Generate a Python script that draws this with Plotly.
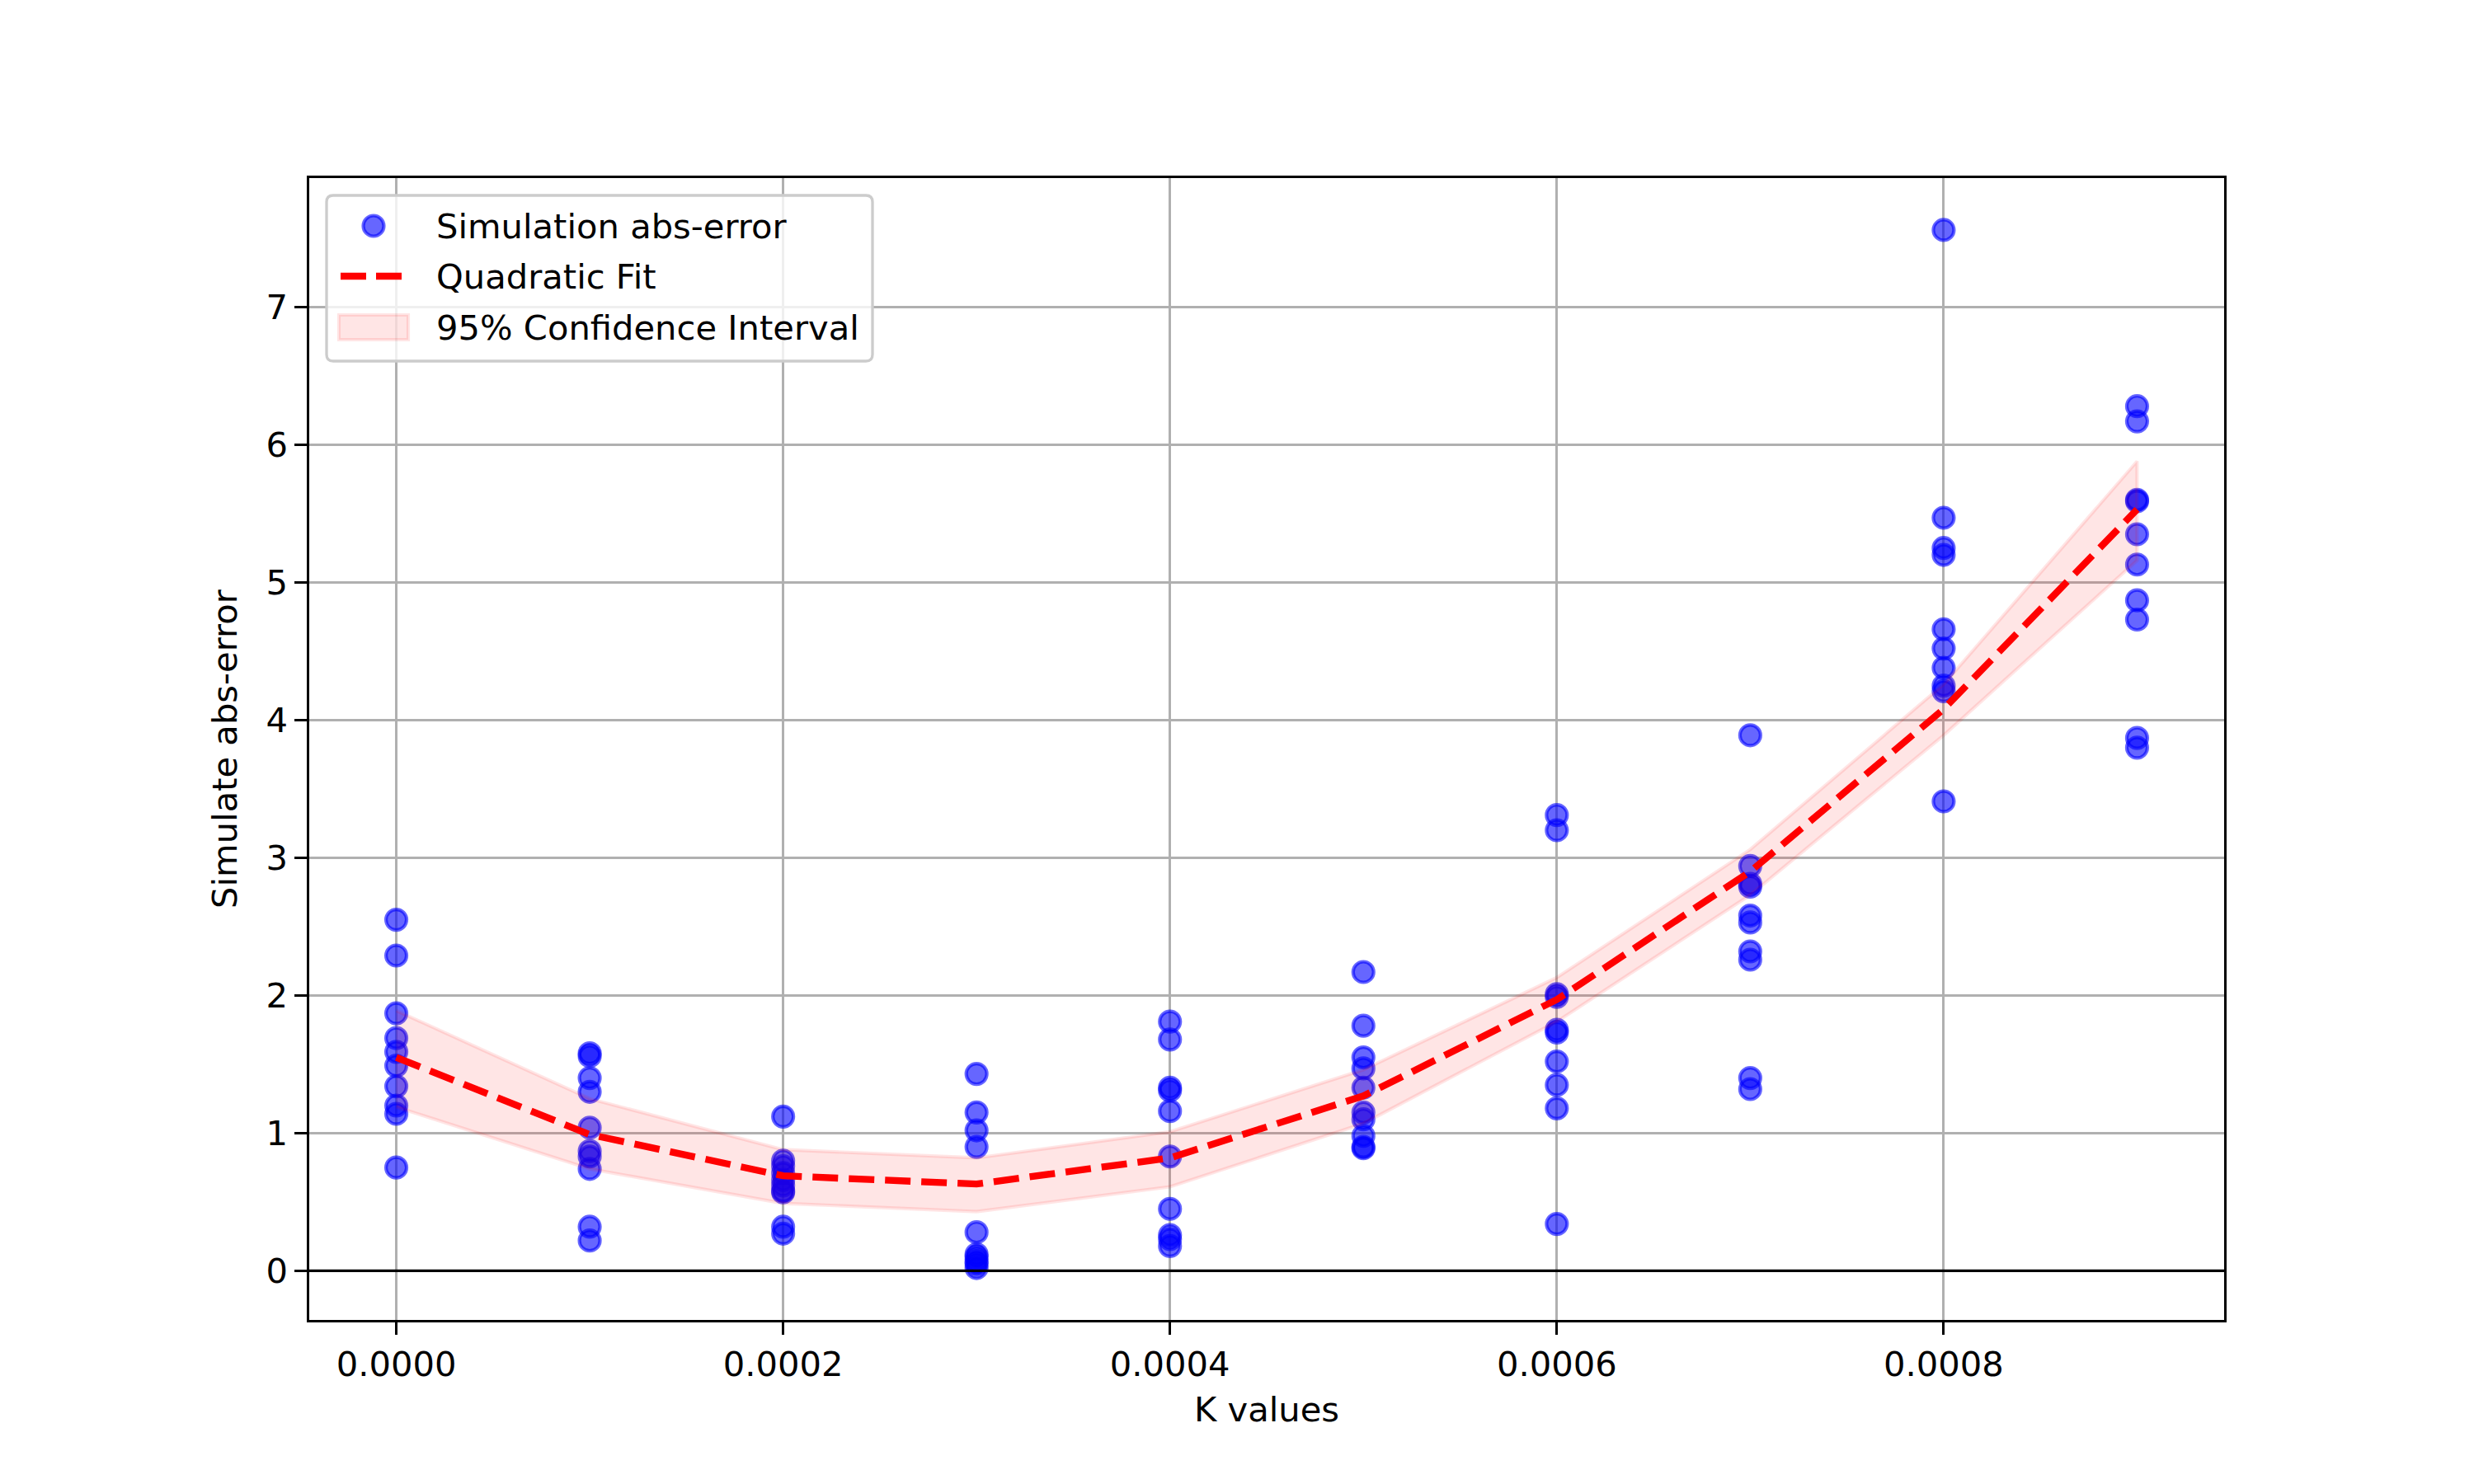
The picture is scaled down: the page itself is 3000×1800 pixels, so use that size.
import plotly.graph_objects as go

# ---- data ----
k_levels = [0.0, 0.0001, 0.0002, 0.0003, 0.0004, 0.0005, 0.0006, 0.0007, 0.0008, 0.0009]

err_k0 = [2.55, 2.29, 1.87, 1.69, 1.59, 1.49, 1.34, 1.20, 1.14, 0.75]
err_k1 = [1.58, 1.56, 1.40, 1.30, 1.04, 0.87, 0.83, 0.74, 0.32, 0.22]
err_k2 = [1.12, 0.80, 0.76, 0.71, 0.66, 0.62, 0.58, 0.57, 0.32, 0.27]
err_k3 = [1.43, 1.15, 1.02, 0.90, 0.28, 0.12, 0.10, 0.07, 0.05, 0.02]
err_k4 = [1.81, 1.68, 1.33, 1.31, 1.16, 0.83, 0.45, 0.26, 0.23, 0.18]
err_k5 = [2.17, 1.78, 1.55, 1.47, 1.33, 1.15, 1.10, 0.98, 0.90, 0.89]
err_k6 = [3.31, 3.20, 2.01, 1.99, 1.75, 1.73, 1.52, 1.35, 1.18, 0.34]
err_k7 = [3.89, 2.94, 2.81, 2.79, 2.58, 2.53, 2.32, 2.26, 1.40, 1.32]
err_k8 = [7.56, 5.47, 5.25, 5.20, 4.66, 4.52, 4.38, 4.25, 4.21, 3.41]
err_k9 = [6.28, 6.17, 5.60, 5.59, 5.35, 5.13, 4.87, 4.73, 3.87, 3.80]

fit_values = [1.55, 0.99, 0.69, 0.63, 0.82, 1.27, 1.97, 2.90, 4.08, 5.53]
ci_upper = [1.89, 1.25, 0.88, 0.82, 1.01, 1.46, 2.13, 3.06, 4.26, 5.88]
ci_lower = [1.19, 0.74, 0.49, 0.43, 0.61, 1.07, 1.81, 2.73, 3.89, 5.16]

x_tick_vals = [0.0, 0.0002, 0.0004, 0.0006, 0.0008]
y_tick_vals = [0, 1, 2, 3, 4, 5, 6, 7]

legend_labels = ["Simulation abs-error", "Quadratic Fit", "95% Confidence Interval"]

# ---- build flat point arrays ----
groups = [err_k0, err_k1, err_k2, err_k3, err_k4, err_k5, err_k6, err_k7, err_k8, err_k9]
px, py = [], []
for k, vals in zip(k_levels, groups):
    for v in vals:
        px.append(k)
        py.append(v)

W, H = 3000, 1800
ML, MR, MT, MB = 375, 303, 216, 199
PW, PH = W - ML - MR, H - MT - MB

PT = 300 / 72.0  # px per point
FONT = dict(family="DejaVu Sans", size=10 * PT, color="black")

POINT_FILL = "rgba(0,0,255,0.6)"
BAND_FILL = "rgba(255,0,0,0.1)"
DASH = f"{3.7*2*PT:.0f}px,{1.6*2*PT:.0f}px"


def pxx(x):
    return (x - ML) / PW


def pxy(y):
    return (H - MB - y) / PH


fig = go.Figure()

fig.add_trace(go.Scatter(
    x=px, y=py, mode="markers", name=legend_labels[0],
    marker=dict(size=6 * PT, color=POINT_FILL,
                line=dict(color=POINT_FILL, width=1 * PT)),
))

fig.add_trace(go.Scatter(
    x=k_levels + k_levels[::-1], y=ci_upper + ci_lower[::-1],
    mode="lines", fill="toself", fillcolor=BAND_FILL,
    line=dict(color=BAND_FILL, width=1 * PT),
    name=legend_labels[2],
))

fig.add_trace(go.Scatter(
    x=k_levels, y=fit_values, mode="lines", name=legend_labels[1],
    line=dict(color="red", width=2 * PT, dash=DASH),
))

axis_common = dict(
    showline=True, linecolor="black", linewidth=0.8 * PT, mirror=True,
    ticks="outside", ticklen=3.5 * PT, tickwidth=0.8 * PT, tickcolor="black",
    showgrid=True, gridcolor="#b0b0b0", gridwidth=0.8 * PT,
    zeroline=False, tickfont=FONT,
)

# ---- matplotlib-style legend (box, handles, labels) ----
bx0, by0, bx1, by1, r = 396, 237, 1058, 438, 8
corner_path = (
    f"M {pxx(bx0 + r)},{pxy(by0)} L {pxx(bx1 - r)},{pxy(by0)} "
    f"Q {pxx(bx1)},{pxy(by0)} {pxx(bx1)},{pxy(by0 + r)} "
    f"L {pxx(bx1)},{pxy(by1 - r)} Q {pxx(bx1)},{pxy(by1)} {pxx(bx1 - r)},{pxy(by1)} "
    f"L {pxx(bx0 + r)},{pxy(by1)} Q {pxx(bx0)},{pxy(by1)} {pxx(bx0)},{pxy(by1 - r)} "
    f"L {pxx(bx0)},{pxy(by0 + r)} Q {pxx(bx0)},{pxy(by0)} {pxx(bx0 + r)},{pxy(by0)} Z"
)

row_y = [274, 335, 397]
handle_x0, handle_x1 = 411, 495
text_x = 527

shapes = [
    dict(type="line", xref="paper", x0=0, x1=1, yref="y", y0=0, y1=0,
         line=dict(color="black", width=0.8 * PT), layer="above"),
    dict(type="path", xref="paper", yref="paper", path=corner_path,
         fillcolor="rgba(255,255,255,0.8)", line=dict(color="#cccccc", width=0.8 * PT),
         layer="above"),
    dict(type="circle", xref="paper", yref="paper", xsizemode="pixel", ysizemode="pixel",
         xanchor=pxx((handle_x0 + handle_x1) / 2), yanchor=pxy(row_y[0]),
         x0=-12.5, x1=12.5, y0=-12.5, y1=12.5,
         fillcolor=POINT_FILL, line=dict(color=POINT_FILL, width=1 * PT), layer="above"),
    dict(type="line", xref="paper", yref="paper",
         x0=pxx(413), x1=pxx(489), y0=pxy(row_y[1]), y1=pxy(row_y[1]),
         line=dict(color="red", width=2 * PT, dash="31px,12px"), layer="above"),
    dict(type="rect", xref="paper", yref="paper",
         x0=pxx(handle_x0), x1=pxx(handle_x1), y0=pxy(row_y[2] - 15), y1=pxy(row_y[2] + 15),
         fillcolor=BAND_FILL, line=dict(color=BAND_FILL, width=1 * PT), layer="above"),
]

annotations = [
    dict(text=lbl, xref="paper", yref="paper", x=pxx(text_x), y=pxy(yy),
         xanchor="left", yanchor="middle", showarrow=False, font=FONT)
    for lbl, yy in zip(legend_labels, row_y)
]

fig.update_layout(
    width=W, height=H, autosize=False,
    margin=dict(l=ML, r=MR, t=MT, b=MB),
    paper_bgcolor="white", plot_bgcolor="white",
    font=FONT,
    xaxis=dict(range=[-0.000045, 0.000945], tickvals=x_tick_vals, tickformat=".4f",
               title=dict(text="K values", font=FONT, standoff=18), **axis_common),
    yaxis=dict(range=[-0.357, 7.937], tickvals=y_tick_vals,
               title=dict(text="Simulate abs-error", font=FONT, standoff=22), **axis_common),
    showlegend=False,
    shapes=shapes,
    annotations=annotations,
)

fig.write_html("out.html")
